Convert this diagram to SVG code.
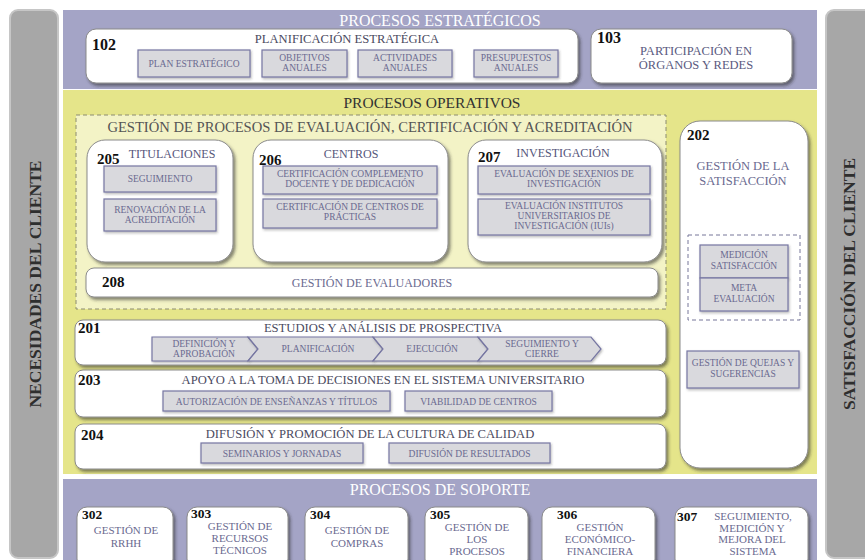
<svg xmlns="http://www.w3.org/2000/svg" width="865" height="560" viewBox="0 0 865 560">
<defs>
<filter id="sh" x="-10%" y="-10%" width="125%" height="140%"><feDropShadow dx="2" dy="2.5" stdDeviation="1.6" flood-color="#2a2a2a" flood-opacity="0.55"/></filter>
<filter id="sh2" x="-10%" y="-10%" width="125%" height="140%"><feDropShadow dx="1" dy="1.5" stdDeviation="1" flood-color="#333" flood-opacity="0.35"/></filter>
</defs>
<style>
text{font-family:"Liberation Serif","Times New Roman",serif;text-anchor:middle}
.side{fill:#a7a7a7;stroke:#c6c6c6;stroke-width:2}
.sidet{font-size:17.5px;font-weight:bold;fill:#2e2e2e}
.band{fill:#a4a4c6}
.bt{font-size:16px;fill:#ffffff}
.box{fill:#ffffff;stroke:#8a8a8a;stroke-width:1;filter:url(#sh)}
.sb{fill:#d9d9dd;stroke:#7676a2;stroke-width:1.2;filter:url(#sh2)}
.num{font-size:15px;font-weight:bold;fill:#111;text-anchor:start}
.sn{font-size:13.5px}
.st{font-size:9.5px;fill:#6a6a90}
.h{font-size:12.6px;fill:#4a4a60}
.hp{font-size:12px;fill:#55557a}
.tp{font-size:11px;fill:#6a6a90}
.dash{fill:none;stroke:#777799;stroke-width:1;stroke-dasharray:4 3}
</style>
<rect x="0" y="0" width="865" height="560" fill="#ffffff"/>
<g id="necesidades">
<rect class="side" x="10" y="10" width="48" height="548" rx="8"/>
<text class="sidet" transform="translate(41,284) rotate(-90)">NECESIDADES DEL CLIENTE</text>
</g>
<g id="satisfaccion">
<rect class="side" x="826" y="10" width="50" height="548" rx="8"/>
<text class="sidet" transform="translate(855,284) rotate(-90)">SATISFACCIÓN DEL CLIENTE</text>
</g>
<g id="estrategicos">
<rect class="band" x="63" y="10" width="754" height="79"/>
<text class="bt" x="440" y="26">PROCESOS ESTRATÉGICOS</text>
</g>
<g id="n102">
<rect class="box" x="86" y="29" width="492" height="54" rx="10"/>
<text class="num" x="92" y="50" style="font-size:16px">102</text>
<text class="h" x="347" y="43">PLANIFICACIÓN ESTRATÉGICA</text>
<rect class="sb" x="138" y="50" width="112" height="27"/>
<text class="st" x="194" y="67">PLAN ESTRATÉGICO</text>
<rect class="sb" x="262" y="50" width="85" height="27"/>
<text class="st" x="304.5" y="61">OBJETIVOS<tspan x="304.5" dy="10">ANUALES</tspan></text>
<rect class="sb" x="358" y="50" width="94" height="27"/>
<text class="st" x="405" y="61">ACTIVIDADES<tspan x="405" dy="10">ANUALES</tspan></text>
<rect class="sb" x="474" y="50" width="84" height="27"/>
<text class="st" x="516" y="61">PRESUPUESTOS<tspan x="516" dy="10">ANUALES</tspan></text>
</g>
<g id="n103">
<rect class="box" x="591" y="29" width="201" height="54" rx="10"/>
<text class="num" x="597" y="43" style="font-size:16px">103</text>
<text x="696" y="55" style="font-size:12.5px;fill:#5a5a80">PARTICIPACIÓN EN<tspan x="696" dy="14">ÓRGANOS Y REDES</tspan></text>
</g>
<g id="operativos">
<rect x="63" y="90" width="754" height="384" fill="#e5e58a"/>
<text x="432" y="108" style="font-size:15.5px;fill:#333">PROCESOS OPERATIVOS</text>
</g>
<g id="evaluacion">
<rect x="76" y="115" width="590" height="194" fill="#f3f3c6" stroke="#8c8c70" stroke-width="1" stroke-dasharray="4 3"/>
<text x="370" y="132" style="font-size:14.6px;fill:#555">GESTIÓN DE PROCESOS DE EVALUACIÓN, CERTIFICACIÓN Y ACREDITACIÓN</text>
</g>
<g id="n205">
<rect class="box" x="87" y="140" width="146" height="122" rx="18"/>
<text class="num" x="97" y="164">205</text>
<text class="hp" x="172" y="158">TITULACIONES</text>
<rect class="sb" x="104" y="166" width="112" height="26"/>
<text class="st" x="160" y="182">SEGUIMIENTO</text>
<rect class="sb" x="104" y="199" width="112" height="32"/>
<text class="st" x="160" y="213">RENOVACIÓN DE LA<tspan x="160" dy="10">ACREDITACIÓN</tspan></text>
</g>
<g id="n206">
<rect class="box" x="253" y="140" width="195" height="122" rx="18"/>
<text class="num" x="259" y="165">206</text>
<text class="hp" x="351" y="158">CENTROS</text>
<rect class="sb" x="263" y="166" width="174" height="28"/>
<text class="st" x="350" y="177">CERTIFICACIÓN COMPLEMENTO<tspan x="350" dy="10">DOCENTE Y DE DEDICACIÓN</tspan></text>
<rect class="sb" x="263" y="199" width="174" height="29"/>
<text class="st" x="350" y="210">CERTIFICACIÓN DE CENTROS DE<tspan x="350" dy="10">PRÁCTICAS</tspan></text>
</g>
<g id="n207">
<rect class="box" x="468" y="140" width="194" height="122" rx="18"/>
<text class="num" x="478" y="162">207</text>
<text class="hp" x="563" y="157">INVESTIGACIÓN</text>
<rect class="sb" x="478" y="166" width="172" height="28"/>
<text class="st" x="564" y="177">EVALUACIÓN DE SEXENIOS DE<tspan x="564" dy="10">INVESTIGACIÓN</tspan></text>
<rect class="sb" x="478" y="199" width="172" height="36"/>
<text class="st" x="564" y="209">EVALUACIÓN INSTITUTOS<tspan x="564" dy="10">UNIVERSITARIOS DE</tspan><tspan x="564" dy="10">INVESTIGACIÓN (IUIs)</tspan></text>
</g>
<g id="n208">
<rect class="box" x="86" y="268" width="572" height="29" rx="8"/>
<text class="num" x="102" y="287">208</text>
<text x="372" y="287" style="font-size:12px;fill:#6a6a90">GESTIÓN DE EVALUADORES</text>
</g>
<g id="n201">
<rect class="box" x="75" y="320" width="591" height="45" rx="8"/>
<text class="num" x="78" y="333">201</text>
<text class="h" x="383" y="332">ESTUDIOS Y ANÁLISIS DE PROSPECTIVA</text>
<path class="sb" d="M152,337 H248 L258,349 L248,361 H152 Z"/>
<text class="st" x="204" y="347">DEFINICIÓN Y<tspan x="204" dy="10">APROBACIÓN</tspan></text>
<path class="sb" d="M248,337 H373 L383,349 L373,361 H248 L258,349 Z"/>
<text class="st" x="318" y="352">PLANIFICACIÓN</text>
<path class="sb" d="M373,337 H478 L488,349 L478,361 H373 L383,349 Z"/>
<text class="st" x="432" y="352">EJECUCIÓN</text>
<path class="sb" d="M478,337 H591 L601,349 L591,361 H478 L488,349 Z"/>
<text class="st" x="542" y="347">SEGUIMIENTO Y<tspan x="542" dy="10">CIERRE</tspan></text>
</g>
<g id="n203">
<rect class="box" x="75" y="370" width="591" height="47" rx="8"/>
<text class="num" x="78" y="385">203</text>
<text class="h" x="383" y="384">APOYO A LA TOMA DE DECISIONES EN EL SISTEMA UNIVERSITARIO</text>
<rect class="sb" x="163" y="391" width="227" height="20"/>
<text class="st" x="276.5" y="404.5">AUTORIZACIÓN DE ENSEÑANZAS Y TÍTULOS</text>
<rect class="sb" x="405" y="391" width="147" height="20"/>
<text class="st" x="478.5" y="404.5">VIABILIDAD DE CENTROS</text>
</g>
<g id="n204">
<rect class="box" x="75" y="424" width="591" height="45" rx="8"/>
<text class="num" x="81" y="440">204</text>
<text class="h" x="370" y="438">DIFUSIÓN Y PROMOCIÓN DE LA CULTURA DE CALIDAD</text>
<rect class="sb" x="201" y="443" width="162" height="20"/>
<text class="st" x="282" y="456.5">SEMINARIOS Y JORNADAS</text>
<rect class="sb" x="389" y="443" width="161" height="20"/>
<text class="st" x="469.5" y="456.5">DIFUSIÓN DE RESULTADOS</text>
</g>
<g id="n202">
<rect class="box" x="680" y="121" width="128" height="347" rx="20"/>
<text class="num" x="687" y="140">202</text>
<text x="743" y="170" style="font-size:12.5px;fill:#6a6a90">GESTIÓN DE LA<tspan x="743" dy="14.5">SATISFACCIÓN</tspan></text>
<rect class="dash" x="688" y="235" width="112" height="85"/>
<rect class="sb" x="700" y="245" width="88" height="33"/>
<text class="st" x="744" y="258">MEDICIÓN<tspan x="744" dy="11">SATISFACCIÓN</tspan></text>
<rect class="sb" x="700" y="278" width="88" height="33"/>
<text class="st" x="744" y="291">META<tspan x="744" dy="11">EVALUACIÓN</tspan></text>
<rect class="sb" x="687" y="351" width="112" height="37"/>
<text class="st" x="743" y="365.5">GESTIÓN DE QUEJAS Y<tspan x="743" dy="11">SUGERENCIAS</tspan></text>
</g>
<g id="soporte">
<rect class="band" x="63" y="479" width="754" height="90"/>
<text class="bt" x="440" y="495">PROCESOS DE SOPORTE</text>
</g>
<g id="n302">
<rect class="box" x="77" y="507" width="96" height="62" rx="10"/>
<text class="num sn" x="82" y="519">302</text>
<text class="tp" x="126" y="534">GESTIÓN DE<tspan x="126" dy="13">RRHH</tspan></text>
</g>
<g id="n303">
<rect class="box" x="187" y="507" width="101" height="62" rx="10"/>
<text class="num sn" x="191" y="518">303</text>
<text class="tp" x="240" y="530">GESTIÓN DE<tspan x="240" dy="12">RECURSOS</tspan><tspan x="240" dy="12">TÉCNICOS</tspan></text>
</g>
<g id="n304">
<rect class="box" x="305" y="507" width="103" height="62" rx="10"/>
<text class="num sn" x="310" y="519">304</text>
<text class="tp" x="357" y="534">GESTIÓN DE<tspan x="357" dy="13">COMPRAS</tspan></text>
</g>
<g id="n305">
<rect class="box" x="425" y="507" width="103" height="62" rx="10"/>
<text class="num sn" x="430" y="519">305</text>
<text class="tp" x="477" y="531">GESTIÓN DE<tspan x="477" dy="12">LOS</tspan><tspan x="477" dy="12">PROCESOS</tspan></text>
</g>
<g id="n306">
<rect class="box" x="542" y="507" width="113" height="62" rx="10"/>
<text class="num sn" x="557" y="519">306</text>
<text class="tp" x="600" y="531">GESTIÓN<tspan x="600" dy="12">ECONÓMICO-</tspan><tspan x="600" dy="12">FINANCIERA</tspan></text>
</g>
<g id="n307">
<rect class="box" x="675" y="507" width="133" height="62" rx="10"/>
<text class="num sn" x="677" y="521">307</text>
<text class="tp" x="753" y="520">SEGUIMIENTO,<tspan x="752" dy="11.5">MEDICIÓN Y</tspan><tspan x="752" dy="11.5">MEJORA DEL</tspan><tspan x="753" dy="11.5">SISTEMA</tspan></text>
</g>
<g id="connectors"/>
</svg>
